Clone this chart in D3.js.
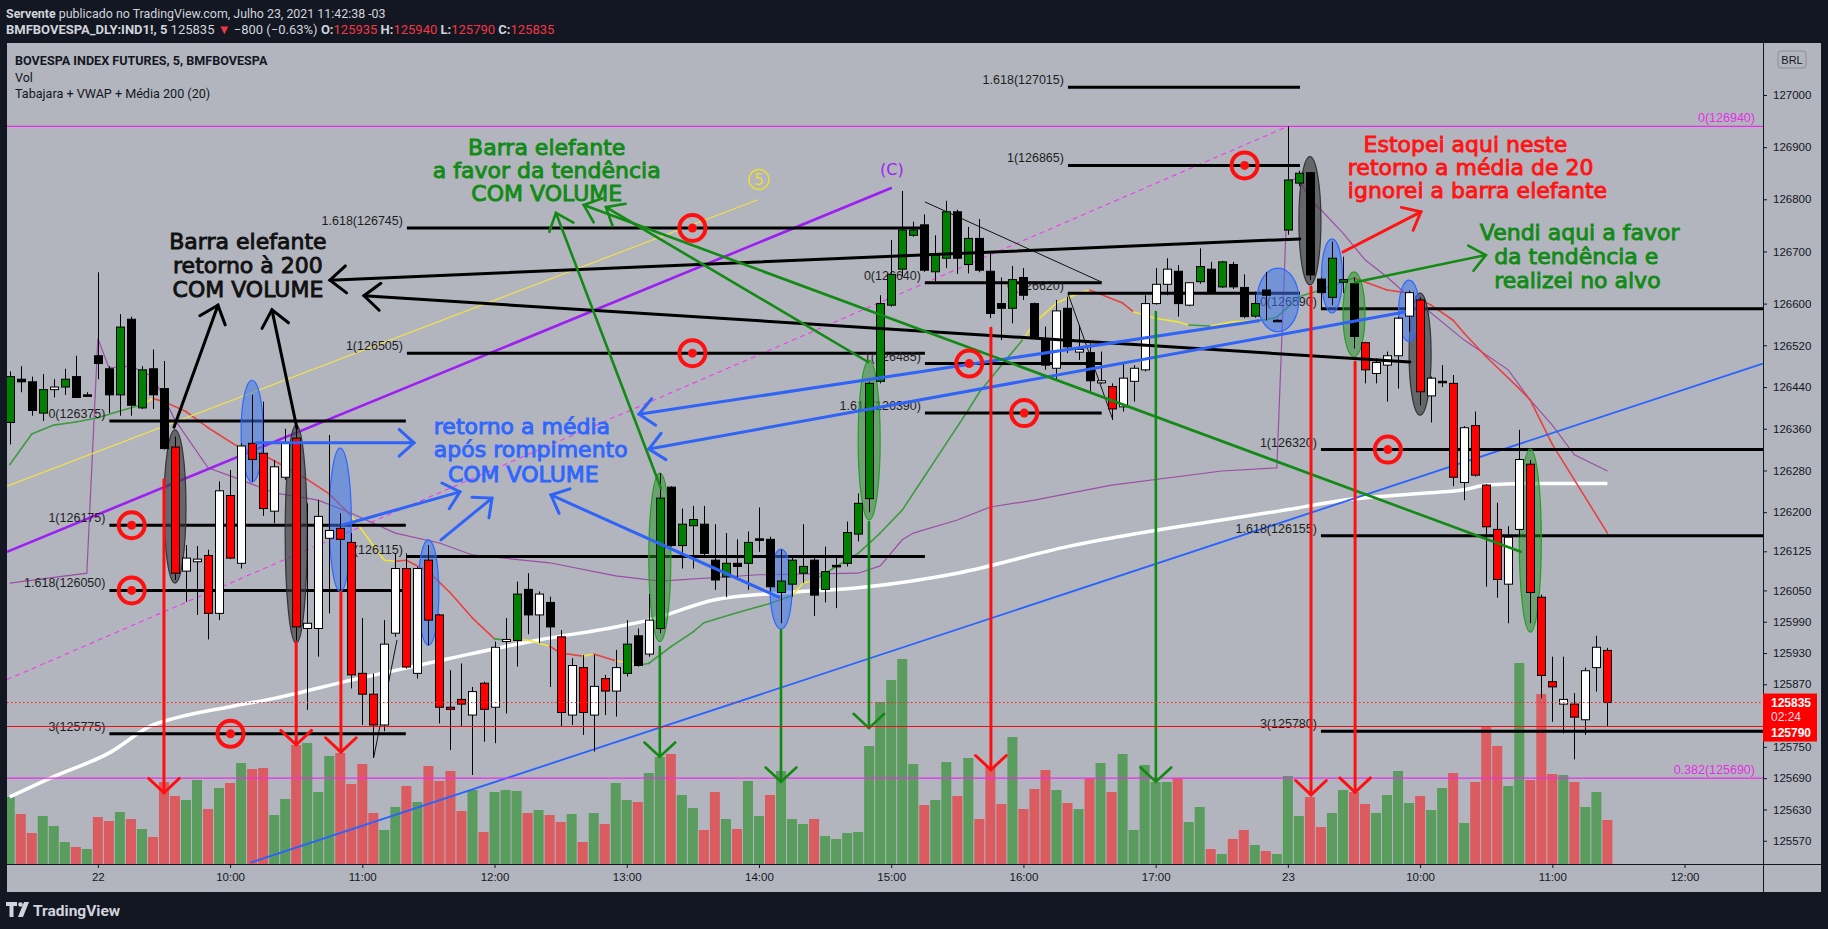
<!DOCTYPE html>
<html><head><meta charset="utf-8">
<script src="https://cdn.jsdelivr.net/npm/d3@7"></script>
<style>html,body{margin:0;padding:0;background:#131722;}svg{display:block;}</style>
</head><body>
<svg id="c" width="1828" height="929"></svg>
<script>
// ---------------- DATA ----------------
const open=[126372,126455,126450,126390,126435,126440,126460,126425,126500,126475,
126425,126570,126400,126475,126437,126325,126087,126105,126117,126006,
126232,126102,126332,126313,126202,126267,126342,125977,125977,126150,
126169,126142,125891,125851,125792,125968,126092,125891,126108,126003,
125826,125841,125811,125872,125826,125952,125954,126052,126003,126027,
125961,125811,125902,125811,125881,125857,125891,125963,125928,125977,
126248,126136,126174,126177,126108,126076,126102,126102,126146,126148,
126046,126062,126083,126108,126052,126096,126102,126158,126226,126451,
126597,126666,126731,126751,126661,126687,126776,126675,126725,126662,
126600,126591,126650,126600,126530,126476,126591,126507,126506,126448,
126441,126402,126451,126473,126600,126637,126662,126597,126642,126666,
126632,126675,126631,126576,126626,126567,126741,126831,126851,126647,
126612,126641,126638,126525,126466,126482,126500,126576,126607,126423,
126449,126447,126257,126366,126252,126167,126062,126167,126292,126037,
125875,125832,125832,125802,125902,125935];
const high=[126470,126480,126460,126465,126455,126475,126500,126430,126660,126480,
126580,126575,126480,126512,126490,126345,126137,126135,126128,126259,
126281,126332,126425,126412,126300,126360,126364,126217,126223,126348,
126198,126160,125997,125891,125993,126121,126121,126095,126137,126005,
125897,125910,125865,125875,125952,125997,126067,126083,126048,126038,
125974,125920,125926,125926,125888,125936,125993,125977,126043,126275,
126250,126207,126212,126212,126177,126160,126148,126163,126209,126153,
126128,126115,126177,126115,126134,126115,126182,126236,126450,126616,
126722,126816,126757,126771,126731,126797,126780,126747,126762,126696,
126650,126672,126668,126602,126556,126607,126613,126559,126524,126508,
126447,126485,126482,126616,126668,126687,126674,126641,126706,126680,
126682,126680,126656,126623,126661,126570,126940,126855,126853,126650,
126719,126690,126650,126527,126495,126508,126575,126625,126612,126460,
126482,126463,126365,126393,126254,126218,126173,126358,126300,126042,
125923,125923,125853,125902,125963,125940];
const low=[126330,126430,126385,126375,126420,126425,126420,126425,126455,126390,
126385,126385,126398,126398,126320,126070,126028,126003,125956,125993,
126110,126092,126259,126193,126179,126262,125952,125821,125923,126006,
126048,125862,125792,125729,125780,125961,125900,125881,125945,125795,
125744,125789,125696,125760,125757,125814,125904,125966,125949,125865,
125789,125792,125773,125741,125811,125808,125885,125904,125923,125968,
126134,126092,126092,126118,126051,126037,126070,126051,126124,126048,
125987,126038,126064,126001,126027,126016,126096,126144,126200,126447,
126594,126652,126728,126661,126642,126668,126657,126658,126660,126572,
126530,126562,126607,126535,126473,126453,126505,126492,126428,126446,
126377,126393,126412,126470,126598,126616,126575,126595,126638,126620,
126630,126628,126572,126573,126568,126566,126732,126825,126645,126591,
126597,126620,126514,126447,126447,126412,126437,126546,126405,126372,
126440,126250,126223,126268,126057,126036,125987,126152,125987,125843,
125798,125776,125726,125773,125856,125790];
const close=[126460,126450,126395,126435,126440,126455,126420,126425,126485,126425,
126555,126405,126473,126425,126322,126083,126112,126110,126006,126241,
126112,126327,126301,126207,126287,126332,125980,125987,126192,126165,
126148,125888,125851,125792,125947,126092,125903,126092,125993,125826,
125822,125832,125856,125822,125941,125956,126043,126003,126043,125980,
125816,125906,125816,125866,125857,125902,125947,125906,125993,126227,
126136,126177,126186,126121,126070,126102,126096,126142,126149,126057,
126068,126108,126096,126041,126086,126098,126161,126217,126447,126600,
126656,126741,126741,126664,126696,126776,126687,126725,126664,126581,
126591,126646,126616,126537,126482,126586,126517,126512,126452,126452,
126398,126457,126476,126600,126637,126666,126600,126640,126671,126623,
126680,126632,126575,126600,126616,126568,126837,126850,126655,126621,
126687,126646,126537,126473,126487,126500,126572,126621,126431,126457,
126451,126267,126362,126271,126172,126071,126152,126301,126046,125887,
125865,125841,125807,125896,125941,125835];
// candle colouring of the "Tabajara" setup: G green, R red, W white, K black
const tone=("GKKGWGKKKK"+"GKGKKRWWRW"+"RWRRWWRWWW"+"RRRRWWRWRR"+"RRWRWWGKWK"+
"RWRWRWGKWG"+"KGGKKGKGKK"+"GGGKGKGGGG"+"GGGKGGKGKK"+"KGKKKWKWKW"+
"RWWWWWKWGK"+"GKKGKKGGKK"+"GGKRWWWWRW"+"KRWRRRWWRR"+"RWRWWR").split("");
// volume, thousands of contracts
const volumeK=[67,50,31,48,38,22,17,15,47,43,52,45,35,27,82,68,64,84,55,76,
81,101,95,96,49,65,119,121,72,108,111,80,100,51,34,57,78,62,98,83,
93,53,74,32,72,74,73,51,54,49,42,50,22,51,40,81,64,62,91,107,
110,69,56,34,72,45,35,83,48,69,93,45,40,45,28,25,31,32,118,162,
184,205,100,59,64,102,68,106,45,97,60,127,55,75,94,74,61,55,86,101,
72,110,34,99,82,82,86,42,57,15,10,25,34,19,13,10,88,48,67,37,
51,74,72,60,51,69,93,61,68,54,76,91,41,82,137,118,78,201,84,170,
90,89,82,57,72,44];
// indicators [bar, price]
const ma200=[[0,125654],[4,125693],[9,125738],[13,125792],[15,125805],[20,125827],[24,125843],[31,125878],[40,125920],[48,125955],[55,125980],[58,125993],[64,126032],[70,126045],[77,126055],[86,126083],[96,126134],[106,126172],[110,126185],[116,126205],[121,126223],[128,126236],[132,126243],[134,126252],[138,126255],[145,126255]];
const vwap=[[0,126064],[7,126083],[8,126533],[9,126477],[11,126480],[13,126460],[15,126377],[18,126285],[21,126262],[24,126237],[28,126223],[31,126198],[35,126160],[39,126141],[42,126118],[49,126103],[55,126078],[59,126068],[68,126080],[77,126083],[79,126097],[81,126147],[82,126160],[86,126185],[89,126210],[93,126223],[100,126252],[110,126279],[115,126285],[116,126836],[117,126840],[118,126799],[119,126780],[121,126735],[123,126684],[125,126651],[127,126613],[129,126582],[132,126530],[136,126473],[138,126415],[140,126367],[142,126310],[145,126279]];
// MA 20 coloured by state: G rising, R falling, Y neutral
const ma20=[[0,126291,'G'],[2,126350,'G'],[4,126367,'G'],[6,126373,'G'],[8,126381,'G'],[10,126394,'G'],[12,126406,'G'],[13,126418,'Y'],[14,126412,'R'],[16,126393,'R'],[18,126362,'R'],[21,126322,'R'],[23,126310,'R'],[25,126287,'R'],[27,126263,'R'],[29,126235,'R'],[31,126193,'R'],[34,126108,'Y'],[35,126106,'Y'],[36,126108,'R'],[38,126086,'R'],[40,126045,'R'],[42,125997,'R'],[44,125957,'R'],[45,125955,'G'],[47,125955,'Y'],[49,125943,'Y'],[50,125930,'R'],[52,125924,'R'],[53,125928,'Y'],[55,125915,'R'],[57,125907,'Y'],[58,125910,'G'],[60,125942,'G'],[62,125970,'G'],[63,125988,'G'],[66,126007,'G'],[69,126025,'G'],[71,126040,'G'],[72,126064,'Y'],[73,126070,'Y'],[74,126083,'G'],[77,126121,'G'],[79,126160,'G'],[81,126204,'G'],[83,126268,'G'],[85,126332,'G'],[87,126396,'G'],[88,126430,'G'],[90,126482,'G'],[92,126532,'G'],[93,126563,'Y'],[95,126601,'Y'],[97,126620,'Y'],[98,126626,'Y'],[99,126618,'R'],[101,126601,'R'],[102,126584,'R'],[104,126572,'Y'],[106,126565,'Y'],[107,126559,'Y'],[109,126557,'G'],[111,126565,'Y'],[113,126567,'Y'],[114,126569,'G'],[115,126574,'G'],[117,126613,'G'],[119,126626,'G'],[121,126642,'G'],[122,126649,'G'],[125,126626,'R'],[127,126620,'R'],[129,126597,'R'],[131,126568,'R'],[132,126543,'R'],[134,126498,'R'],[137,126437,'R'],[138,126415,'R'],[140,126330,'R'],[142,126262,'R'],[145,126160,'R']];
// axis ticks
const priceTicks=[127000,126900,126800,126700,126600,126520,126440,126360,126280,126200,126125,126050,125990,125930,125870,125750,125690,125630,125570];
const timeBars=[8,20,32,44,56,68,80,92,104,116,128,140,152];
const timeLabels=["22","10:00","11:00","12:00","13:00","14:00","15:00","16:00","17:00","23","10:00","11:00","12:00"];
// fibonacci drawings: [fromBar, toBar] and [level, price]
const fibSpans=[[9.05,35.95],[36.05,83.06],[83.06,99.1],[96.04,117.1],[119.0,160]];
const fibLevels=[
 [[0,126375],[1,126175],[1.618,126050],[3,125775]],
 [[1.618,126745],[1,126505],[0,126115]],
 [[0,126640],[1,126485],[1.618,126390]],
 [[1.618,127015],[1,126865],[0,126620]],
 [[0,126590],[1,126320],[1.618,126155],[3,125780]]];
const pinkLevels=[["0",126940],["0.382",125690]];
const lastPrice=125835, lowLine=125790;
// drawings (bar, price)
const trendBlue=[21.86,125528,159.1,126485];
const trendPurple=[-0.25,126124,80.06,126822];
const trendYellow=[-0.25,126250,67.9,126799];
const trendPink=[-0.25,125879,116,126940];
const thinBlack=[[83.06,126795,99.12,126641],[96.03,126620,100.12,126377],[33.03,125729,35.15,125955]];
const arrowsBlack=[[117.09,126724,29.06,126645],[127.07,126488,32.15,126615],[14.91,126363,18.9,126597],[26.07,126361,23.8,126588]];
const arrowsBlue=[[22.4,126333,36.69,126333],[30.15,126175,40.86,126239],[39.14,126147,43.77,126227],[69.81,126037,49.12,126233],[113.37,126567,57.11,126388],[126.62,126584,58.01,126321]];
const arrowsGreen=[[59.1,126246,49.57,126774],[77.9,126488,54.11,126785],[137.14,126124,52.1,126789],[122.1,126641,133.97,126693]];
const arrowsRed=[[121,126699,128.07,126776]];
const dropsRed=[[14.0,126262,125662],[26.0,125951,125754],[30.06,126047,125740],[89.05,126553,125706],[118.1,126632,125658],[122.1,126488,125663]];
const dropsGreen=[[59.0,125942,125731],[70.0,125974,125683],[77.98,126181,125786],[104.02,126584,125683]];
const ellGray=[[15,126358,126064,1.0],[26,126367,125949,1.0],[118,126882,126636,1.0],[128,126620,126386,1.0]];
const ellBlue=[[22,126453,126258,1.0],[30,126323,126048,1.0],[38,126147,125945,0.95],[70,126129,125976,1.0],[115.1,126668,126546,1.9],[120,126724,126582,0.95],[127,126645,126527,0.95]];
const ellGreen=[[59,126275,125952,1.0],[78,126491,126185,1.0],[122,126661,126498,1.0],[138,126321,125970,1.0]];
const targets=[[11.07,126175],[11.07,126050],[20.04,125775],[61.96,126745],[61.96,126505],[87.08,126485],[92.07,126390],[112.07,126865],[125.07,126320]];
const notes=[
 {c:"#111111",a:"middle",lines:[["Barra elefante",21.62,126705],["retorno à 200",21.62,126659],["COM VOLUME",21.62,126613]]},
 {c:"#128a16",a:"middle",lines:[["Barra elefante",48.74,126885],["a favor da tendência",48.74,126841],["COM VOLUME",48.74,126797]]},
 {c:"#2f66ff",a:"start",lines:[["retorno a média",38.49,126350],["após rompimento",38.49,126306],["COM VOLUME",39.77,126258]]},
 {c:"#ff1414",a:"start",lines:[["Estopei aqui neste",122.87,126891],["retorno a média de 20",121.44,126847],["ignorei a barra elefante",121.44,126802]]},
 {c:"#128a16",a:"start",lines:[["Vendi aqui a favor",133.42,126721],["da tendência e",134.72,126676],["realizei no alvo",134.72,126629]]}];

// ---------------- DRAW ----------------
const svg=d3.select("#c");
svg.append("rect").attr("width",1828).attr("height",929).attr("fill","#131722");
svg.append("rect").attr("x",7).attr("y",43).attr("width",1814).attr("height",849).attr("fill","#b2b5be");
const x=d3.scaleLinear().domain([-0.245,159.12]).range([7,1763]);
const y=d3.scaleLinear().domain([125525.4,127099.7]).range([864,43]);
const yv=d3.scaleLinear().domain([0,821]).range([864,43]);
svg.append("defs").append("clipPath").attr("id","clip").append("rect").attr("x",7).attr("y",43).attr("width",1756).attr("height",821);
const pane=svg.append("g").attr("clip-path","url(#clip)");
const n=open.length;
const FT="'DejaVu Sans', sans-serif";
const FL="'Liberation Sans', Arial, sans-serif";

// volume
pane.append("g").selectAll("rect").data(d3.range(n)).join("rect")
 .attr("x",i=>x(i)-5).attr("width",10).attr("y",i=>yv(volumeK[i])).attr("height",i=>864-yv(volumeK[i]))
 .attr("fill",i=>close[i]>=open[i]?"#5a9b5e":"#da5b60");

// indicators
pane.append("path").datum(vwap).attr("fill","none").attr("stroke","#9a4fa6").attr("stroke-width",1.2)
 .attr("d",d3.line().x(d=>x(d[0])).y(d=>y(d[1])));
pane.append("path").datum(ma200).attr("fill","none").attr("stroke","#ffffff").attr("stroke-width",3.5)
 .attr("d",d3.line().x(d=>x(d[0])).y(d=>y(d[1])).curve(d3.curveMonotoneX));
const maCol={G:"#3f9a40",R:"#e8413e",Y:"#efe43c"};
for(let k=1;k<ma20.length;k++){
 const a=ma20[k-1],b=ma20[k];
 pane.append("line").attr("x1",x(a[0])).attr("y1",y(a[1])).attr("x2",x(b[0])).attr("y2",y(b[1]))
  .attr("stroke",maCol[b[2]]).attr("stroke-width",1.6).attr("stroke-linecap","round");
}

// trend lines
function seg(g,d,col,w,dash){const l=g.append("line").attr("x1",x(d[0])).attr("y1",y(d[1])).attr("x2",x(d[2])).attr("y2",y(d[3]))
 .attr("stroke",col).attr("stroke-width",w); if(dash) l.attr("stroke-dasharray",dash); return l;}
const draw=pane.append("g");
seg(draw,trendYellow,"#f2e24a",1.1);
seg(draw,trendPink,"#ee3cee",1.1,"5,4");
seg(draw,trendPurple,"#9d1ff2",2.6);
seg(draw,trendBlue,"#2962ff",1.8);
thinBlack.forEach(d=>seg(draw,d,"#111",1));
// pink horizontal levels
pinkLevels.forEach(p=>{
 draw.append("line").attr("x1",7).attr("x2",1763).attr("y1",y(p[1])).attr("y2",y(p[1])).attr("stroke","#ee2cee").attr("stroke-width",1.2);
 draw.append("text").attr("x",1755).attr("y",y(p[1])-4).attr("text-anchor","end").attr("font-family",FL).attr("font-size",12.5)
  .attr("fill","#e62ee6").text(p[0]+"("+p[1]+")");
});
// fib levels
fibSpans.forEach((s,gi)=>{
 fibLevels[gi].forEach(l=>{
  draw.append("line").attr("x1",x(s[0])).attr("x2",x(s[1])).attr("y1",y(l[1])).attr("y2",y(l[1])).attr("stroke","#000").attr("stroke-width",3);
  draw.append("text").attr("x",x(s[0])-4).attr("y",y(l[1])-3).attr("text-anchor","end").attr("font-family",FL).attr("font-size",12.5)
   .attr("fill","#1e1e1e").text(l[0]+"("+l[1]+")");
 });
});

// ellipses (behind candles)
const draw2=pane.append("g");
function ells(list,fill,stroke){list.forEach(e=>{
 draw2.append("ellipse").attr("cx",x(e[0])).attr("cy",(y(e[1])+y(e[2]))/2).attr("rx",x(e[3])-x(0)).attr("ry",(y(e[2])-y(e[1]))/2)
  .attr("fill",fill).attr("stroke",stroke).attr("stroke-width",1.2);});}
ells(ellGray,"rgba(60,60,62,0.65)","#333");
ells(ellBlue,"rgba(64,118,235,0.55)","#2f66ff");
ells(ellGreen,"rgba(40,140,40,0.5)","#22a022");

// candles
const tc={G:"#008000",R:"#ff0000",W:"#ffffff",K:"#000000"};
const cg=pane.append("g");
cg.selectAll("line").data(d3.range(n)).join("line")
 .attr("x1",i=>Math.round(x(i))+0.5).attr("x2",i=>Math.round(x(i))+0.5).attr("y1",i=>y(high[i])).attr("y2",i=>y(low[i]))
 .attr("stroke","#000").attr("stroke-width",1);
cg.selectAll("rect").data(d3.range(n)).join("rect")
 .attr("x",i=>Math.round(x(i))-3.5).attr("width",8)
 .attr("y",i=>y(Math.max(open[i],close[i]))).attr("height",i=>Math.max(1.5,Math.abs(y(open[i])-y(close[i]))))
 .attr("fill",i=>tc[tone[i]]).attr("stroke","#000").attr("stroke-width",1);

// arrows
function arrow(g,x1,y1,x2,y2,col,w,len,ang){
 g.append("line").attr("x1",x1).attr("y1",y1).attr("x2",x2).attr("y2",y2).attr("stroke",col).attr("stroke-width",w).attr("stroke-linecap","round");
 const a=Math.atan2(y1-y2,x1-x2),r=ang*Math.PI/180;
 g.append("path").attr("d",`M${x2+len*Math.cos(a+r)},${y2+len*Math.sin(a+r)}L${x2},${y2}L${x2+len*Math.cos(a-r)},${y2+len*Math.sin(a-r)}`)
  .attr("fill","none").attr("stroke",col).attr("stroke-width",w).attr("stroke-linecap","round").attr("stroke-linejoin","miter");
}
const ag=pane.append("g");
arrowsBlack.forEach(d=>arrow(ag,x(d[0]),y(d[1]),x(d[2]),y(d[3]),"#000",3,21,40));
arrowsBlue.forEach(d=>arrow(ag,x(d[0]),y(d[1]),x(d[2]),y(d[3]),"#3064f6",3,20,42));
arrowsGreen.forEach(d=>arrow(ag,x(d[0]),y(d[1]),x(d[2]),y(d[3]),"#138a16",2.6,20,40));
arrowsRed.forEach(d=>arrow(ag,x(d[0]),y(d[1]),x(d[2]),y(d[3]),"#ff1414",3,20,40));
dropsRed.forEach(d=>arrow(ag,x(d[0]),y(d[1]),x(d[0]),y(d[2]),"#ff1010",3,21,47));
dropsGreen.forEach(d=>arrow(ag,x(d[0]),y(d[1]),x(d[0]),y(d[2]),"#118a14",2.6,21,47));

// targets
targets.forEach(t=>{
 ag.append("circle").attr("cx",x(t[0])).attr("cy",y(t[1])).attr("r",13).attr("fill","none").attr("stroke","#ff1010").attr("stroke-width",4);
 ag.append("circle").attr("cx",x(t[0])).attr("cy",y(t[1])).attr("r",4.5).attr("fill","#ff1010");
});

// wave labels
ag.append("circle").attr("cx",x(68)).attr("cy",y(126838)).attr("r",10).attr("fill","none").attr("stroke","#eadc3c").attr("stroke-width",1.5);
ag.append("text").attr("x",x(68)).attr("y",y(126838)+5.5).attr("text-anchor","middle").attr("font-family",FT).attr("font-size",15).attr("fill","#eadc3c").text("5");
ag.append("text").attr("x",x(80.06)).attr("y",y(126847)).attr("text-anchor","middle").attr("font-family",FT).attr("font-size",16).attr("fill","#a020f0").text("(C)");

// texts
notes.forEach(nt=>nt.lines.forEach(l=>{
 ag.append("text").attr("x",x(l[1])).attr("y",y(l[2])).attr("text-anchor",nt.a).attr("font-family",FT).attr("font-size",22)
  .attr("fill",nt.c).attr("stroke",nt.c).attr("stroke-width",0.9).text(l[0]);
}));

// price lines
pane.append("line").attr("x1",7).attr("x2",1763).attr("y1",y(lastPrice)).attr("y2",y(lastPrice)).attr("stroke","#ff1a1a").attr("stroke-width",1).attr("stroke-dasharray","1.5,2.5");
pane.append("line").attr("x1",7).attr("x2",1763).attr("y1",y(lowLine)+0.5).attr("y2",y(lowLine)+0.5).attr("stroke","#ee1111").attr("stroke-width",1.2);

// axes
const ax=svg.append("g").attr("transform","translate(1763,0)")
 .call(d3.axisRight(y).tickValues(priceTicks).tickSize(4).tickPadding(6).tickFormat(d3.format("d")));
ax.select(".domain").remove();
ax.selectAll("text").attr("font-family",FL).attr("font-size",11.5).attr("fill","#131722");
ax.selectAll("line").attr("stroke","#131722");
const bx=svg.append("g").attr("transform","translate(0,864)")
 .call(d3.axisBottom(x).tickValues(timeBars).tickSize(4).tickPadding(5).tickFormat((d,k)=>timeLabels[k]));
bx.select(".domain").remove();
bx.selectAll("text").attr("font-family",FL).attr("font-size",11.5).attr("fill","#131722");
bx.selectAll("line").attr("stroke","#131722");
svg.append("line").attr("x1",1763.5).attr("x2",1763.5).attr("y1",43).attr("y2",892).attr("stroke","#131722");
svg.append("line").attr("x1",7).attr("x2",1821).attr("y1",864.5).attr("y2",864.5).attr("stroke","#131722");

// price tags
svg.append("rect").attr("x",1763).attr("y",y(lastPrice)-9).attr("width",54).attr("height",48).attr("fill","#ff0000");
svg.append("text").attr("x",1771).attr("y",y(lastPrice)+4.5).attr("font-family",FL).attr("font-weight","bold").attr("font-size",12).attr("fill","#fff").text(d3.format("d")(lastPrice));
svg.append("text").attr("x",1771).attr("y",y(lastPrice)+18).attr("font-family",FL).attr("font-size",12).attr("fill","#fde").text("02:24");
svg.append("text").attr("x",1771).attr("y",y(lowLine)+10.5).attr("font-family",FL).attr("font-weight","bold").attr("font-size",12).attr("fill","#fff").text(d3.format("d")(lowLine));
svg.append("rect").attr("x",1778).attr("y",51).attr("width",28).attr("height",17).attr("rx",3).attr("fill","none").attr("stroke","#8c8f99");
svg.append("text").attr("x",1792).attr("y",63.5).attr("text-anchor","middle").attr("font-family",FL).attr("font-size",11).attr("fill","#131722").text("BRL");

// legends
const FR="Roboto, 'Liberation Sans', sans-serif";
const lg=svg.append("g").attr("font-family",FR).attr("fill","#131722");
lg.append("text").attr("x",15).attr("y",65).attr("font-size",12.6).attr("font-weight","bold").text("BOVESPA INDEX FUTURES, 5, BMFBOVESPA");
lg.append("text").attr("x",15).attr("y",82).attr("font-size",12.5).text("Vol");
lg.append("text").attr("x",15).attr("y",98).attr("font-size",12.6).text("Tabajara + VWAP + Média 200 (20)");

// header
const h1=svg.append("text").attr("x",6).attr("y",18).attr("font-family",FR).attr("font-size",12.4).attr("fill","#d1d4dc");
h1.append("tspan").attr("font-weight","bold").text("Servente");
h1.append("tspan").text(" publicado no TradingView.com, Julho 23, 2021 11:42:38 -03");
const h2=svg.append("text").attr("x",6).attr("y",34).attr("font-family",FR).attr("font-size",13).attr("fill","#d1d4dc");
h2.append("tspan").attr("font-weight","bold").text("BMFBOVESPA_DLY:IND1!, 5");
h2.append("tspan").text(" "+close[n-1]+" ");
h2.append("tspan").attr("fill","#f23645").text("▼");
h2.append("tspan").text(" −800 (−0.63%) ");
[["O:",open[n-1]],["H:",high[n-1]],["L:",low[n-1]],["C:",close[n-1]]].forEach((p,k)=>{
 h2.append("tspan").attr("font-weight","bold").text((k?" ":"")+p[0]);
 h2.append("tspan").attr("fill","#f23645").text(p[1]);
});

// footer logo
const lo=svg.append("g").attr("fill","#d1d4dc");
lo.append("path").attr("d","M6,902 h11 v4 h-3.5 v11 h-4 v-11 h-3.5z");
lo.append("circle").attr("cx",20.5).attr("cy",904.5).attr("r",2.3);
lo.append("path").attr("d","M24,902 h5 l-6,15 h-5z");
lo.append("text").attr("x",33).attr("y",916).attr("font-family",FR).attr("font-weight","bold").attr("font-size",15.5).text("TradingView");
</script></body></html>
